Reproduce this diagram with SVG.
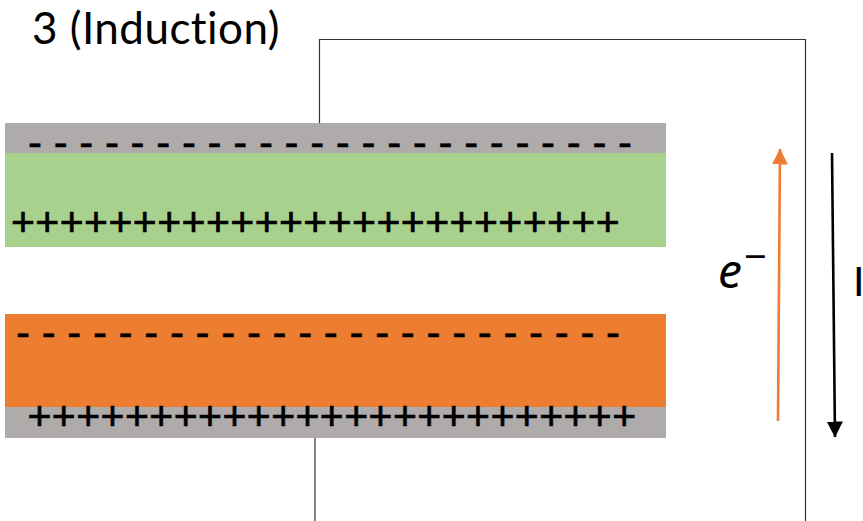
<svg xmlns="http://www.w3.org/2000/svg" width="863" height="521" viewBox="0 0 863 521">
<style>
.wire{fill:none;stroke:#333;stroke-width:1.2}
.grey{fill:#AFABAB}.green{fill:#A9D18E}.orange{fill:#ED7D31}
.charge{font-family:"Liberation Sans",Arial,sans-serif;fill:#000;stroke:#000}
.plus{font-size:41px;letter-spacing:.42px;stroke-width:.7px}
.minus{font-size:42px;stroke-width:.5px}
.label{font-family:Lato,"Noto Sans",sans-serif;fill:#000;font-variant-ligatures:none}
</style>
<defs>
<marker id="headO" markerUnits="userSpaceOnUse" markerWidth="16" markerHeight="16" refX="15.5" refY="8" orient="auto"><path d="M0 0L16 8L0 16z" fill="#ED7D31"/></marker>
<marker id="headK" markerUnits="userSpaceOnUse" markerWidth="16" markerHeight="16" refX="15.5" refY="8" orient="auto"><path d="M0 0L16 8L0 16z" fill="#000"/></marker>
</defs>
<rect width="863" height="521" fill="#fff"/>
<g id="connectors">
<path class="wire" d="M319.5 123V39.5H805.5V521"/>
<path class="wire" d="M315 438V521"/>
<path d="M778 421L780 149" fill="none" stroke="#ED7D31" stroke-width="2.6" marker-end="url(#headO)"/>
<path d="M832 153L835 437" fill="none" stroke="#000" stroke-width="2.6" marker-end="url(#headK)"/>
</g>
<g id="top-plate">
<rect class="grey" x="5" y="123" width="661" height="30"/>
<rect class="green" x="5" y="153" width="661" height="94"/>
<text class="charge minus" x="28" y="156.5">- - - - - - - - - - - - - - - - - - - - - - - -</text>
<text class="charge plus" x="11" y="236">+++++++++++++++++++++++++</text>
</g>
<g id="bottom-plate">
<rect class="orange" x="5" y="314" width="661" height="93"/>
<rect class="grey" x="5" y="407" width="661" height="31"/>
<text class="charge minus" x="16" y="346.5">- - - - - - - - - - - - - - - - - - - - - - - -</text>
<text class="charge plus" x="27.5" y="430">+++++++++++++++++++++++++</text>
</g>
<g id="title"><text class="label" x="32" y="43.5" font-size="44" letter-spacing=".45">3 (Induction)</text></g>
<g id="electron-label"><text x="718" y="288" font-family="Noto Sans,sans-serif" font-size="48" font-style="italic">e<tspan x="744" y="271" font-size="40" font-style="normal">−</tspan></text></g>
<g id="current-label"><text class="label" x="853" y="296" font-size="41">I</text></g>
</svg>
